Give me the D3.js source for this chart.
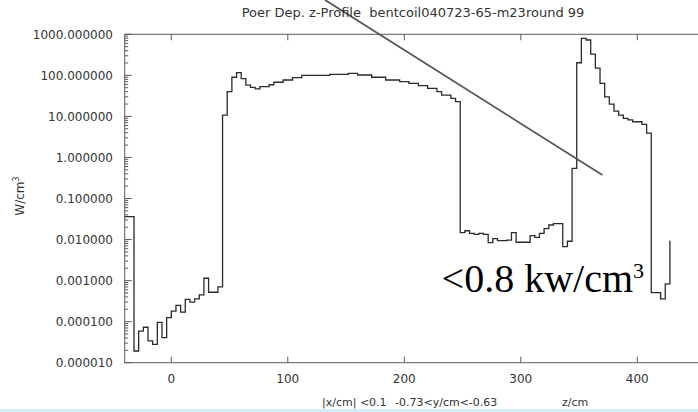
<!DOCTYPE html>
<html>
<head>
<meta charset="utf-8">
<script src="https://cdn.jsdelivr.net/npm/d3@7"></script>
<style>
  html, body { margin: 0; padding: 0; background: #fff; }
  svg { display: block; font-family: "DejaVu Sans", sans-serif; }
</style>
</head>
<body>
<script>
// Power deposition along z (W/cm^3), histogram with 4 cm bins; each entry is a bin's left edge.
const binStart = [
  -40, -32, -28, -24, -20, -16, -12, -8, -4, 0, 4, 8, 12, 16, 20, 24, 28, 32, 40,
  44, 48, 52, 56, 60, 64, 68, 72, 76, 84, 88, 96, 104, 112, 136, 152, 160, 172,
  184, 196, 204, 212, 220, 228, 232, 240, 244,
  248, 252, 256, 260, 264, 268, 272, 276, 280, 288, 292, 296, 308, 312, 316,
  320, 324, 328, 336, 340,
  344, 348, 352, 356, 360, 364, 368, 372, 376, 380, 384, 388, 392, 396, 404, 408,
  412, 420, 424
];
const power = [
  0.036, 1.93e-5, 5.9e-5, 7.3e-5, 3.4e-5, 2.8e-5, 9.6e-5, 4.1e-5, 1.25e-4, 1.8e-4,
  2.5e-4, 1.7e-4, 3.5e-4, 3.0e-4, 3.6e-4, 4.5e-4, 1.14e-3, 5.2e-4, 7.0e-4,
  10.8, 40, 90, 116, 83, 58, 51, 47, 53, 59, 68, 77, 88, 100, 106, 112, 102, 90,
  77, 70, 64, 56, 48, 40, 33, 27.6, 22.8,
  0.0147, 0.0164, 0.0142, 0.0134, 0.0142, 0.0134, 0.0084, 0.0105, 0.0094, 0.0097,
  0.0147, 0.0086, 0.0124, 0.0113, 0.0142, 0.0184, 0.0226, 0.0243, 0.0067, 0.0091,
  0.54, 203, 800, 726, 330, 150, 64, 30, 20, 13.5, 10.8, 9.0, 8.2, 7.4, 6.4, 3.9,
  5.1e-4, 3.6e-4, 8.3e-4
];
// closing edge of the last bin and the level the trace rises to there
const lastEdge = 428;
const tailPower = 0.0094;

const xTicks = [0, 100, 200, 300, 400];
const yTicks = [1e-5, 1e-4, 1e-3, 1e-2, 1e-1, 1, 10, 100, 1000];

const titleText = "Poer Dep. z-Profile  bentcoil040723-65-m23round 99";
const xLabelParts = ["|x/cm| <0.1", "-0.73<y/cm<-0.63", "z/cm"];

// guide line and its note, in data coordinates (z, W/cm^3)
const guideFrom = [132, 6850];
const guideTo = [370, 0.373];
const noteAt = [232, 5.37e-4];

const W = 698, H = 412;
const textColor = "#333";
const svg = d3.select("body").append("svg").attr("width", W).attr("height", H);

const x = d3.scaleLinear().domain([-40, 460]).range([124.7, 707.2]);
const y = d3.scaleLog().domain([1e-5, 1000]).range([362.7, 34.3]);
const [x0] = x.range();
const [yb, yt] = y.range();

// frame
const axisColor = "#5a5a5a";
svg.append("rect")
  .attr("x", x0).attr("y", yt)
  .attr("width", x.range()[1] - x0).attr("height", yb - yt)
  .attr("fill", "none").attr("stroke", axisColor).attr("stroke-width", 1);

// y ticks (major + log minors), pointing inward
const minor = [];
yTicks.slice(0, -1).forEach(d => { for (let k = 2; k <= 9; k++) minor.push(d * k); });
svg.append("g").selectAll("line").data(minor).join("line")
  .attr("x1", x0).attr("x2", x0 + 3.5)
  .attr("y1", d => y(d)).attr("y2", d => y(d))
  .attr("stroke", axisColor).attr("stroke-width", 1);
svg.append("g").selectAll("line").data(yTicks).join("line")
  .attr("x1", x0).attr("x2", x0 + 7)
  .attr("y1", d => y(d)).attr("y2", d => y(d))
  .attr("stroke", axisColor).attr("stroke-width", 1);
svg.append("g").selectAll("text").data(yTicks).join("text")
  .attr("x", 113).attr("y", d => y(d) + 4.5)
  .attr("text-anchor", "end").attr("font-size", 12).attr("fill", textColor)
  .text(d => d.toFixed(6));

// x ticks, bottom and top
svg.append("g").selectAll("line").data(xTicks).join("line")
  .attr("x1", d => x(d)).attr("x2", d => x(d))
  .attr("y1", yb).attr("y2", yb - 6)
  .attr("stroke", axisColor);
svg.append("g").selectAll("line").data(xTicks).join("line")
  .attr("x1", d => x(d)).attr("x2", d => x(d))
  .attr("y1", yt).attr("y2", yt + 6)
  .attr("stroke", axisColor);
svg.append("g").selectAll("text").data(xTicks).join("text")
  .attr("x", d => x(d)).attr("y", 383)
  .attr("text-anchor", "middle").attr("font-size", 12).attr("fill", textColor)
  .text(d => d);

// histogram trace
const pts = binStart.map((z, i) => [z, power[i]]);
pts.push([lastEdge, tailPower]);
const line = d3.line().x(d => x(d[0])).y(d => y(d[1])).curve(d3.curveStepAfter);
svg.append("path").attr("d", line(pts))
  .attr("fill", "none").attr("stroke", "#2a2a2a").attr("stroke-width", 1.3);

// guide line
svg.append("line")
  .attr("x1", x(guideFrom[0])).attr("y1", y(guideFrom[1]))
  .attr("x2", x(guideTo[0])).attr("y2", y(guideTo[1]))
  .attr("stroke", "#555").attr("stroke-width", 1.8);

// title
svg.append("text").attr("x", 413).attr("y", 17)
  .attr("text-anchor", "middle").attr("font-size", 13).attr("fill", textColor)
  .style("white-space", "pre")
  .text(titleText);

// axis labels
const yl = svg.append("text")
  .attr("transform", "translate(24,196) rotate(-90)")
  .attr("text-anchor", "middle").attr("font-size", 12).attr("fill", textColor);
yl.append("tspan").text("W/cm");
yl.append("tspan").attr("font-size", 8).attr("dy", -5).text("3");

const xLabelX = [322, 395, 562];
svg.append("g").selectAll("text").data(xLabelParts).join("text")
  .attr("x", (d, i) => xLabelX[i]).attr("y", 406)
  .attr("font-size", 11).attr("fill", textColor)
  .text(d => d);

// note
const note = svg.append("text")
  .attr("x", x(noteAt[0])).attr("y", y(noteAt[1]))
  .attr("font-family", "'Liberation Serif', 'DejaVu Serif', serif")
  .attr("font-size", 40).attr("fill", "#000");
note.append("tspan").text("<0.8 kw/cm");
note.append("tspan").attr("font-size", 22).attr("dy", -14).text("3");

// light band along the bottom edge
svg.append("rect").attr("x", 0).attr("y", 409).attr("width", W).attr("height", 3)
  .attr("fill", "#d2f0fb");
</script>
</body>
</html>
